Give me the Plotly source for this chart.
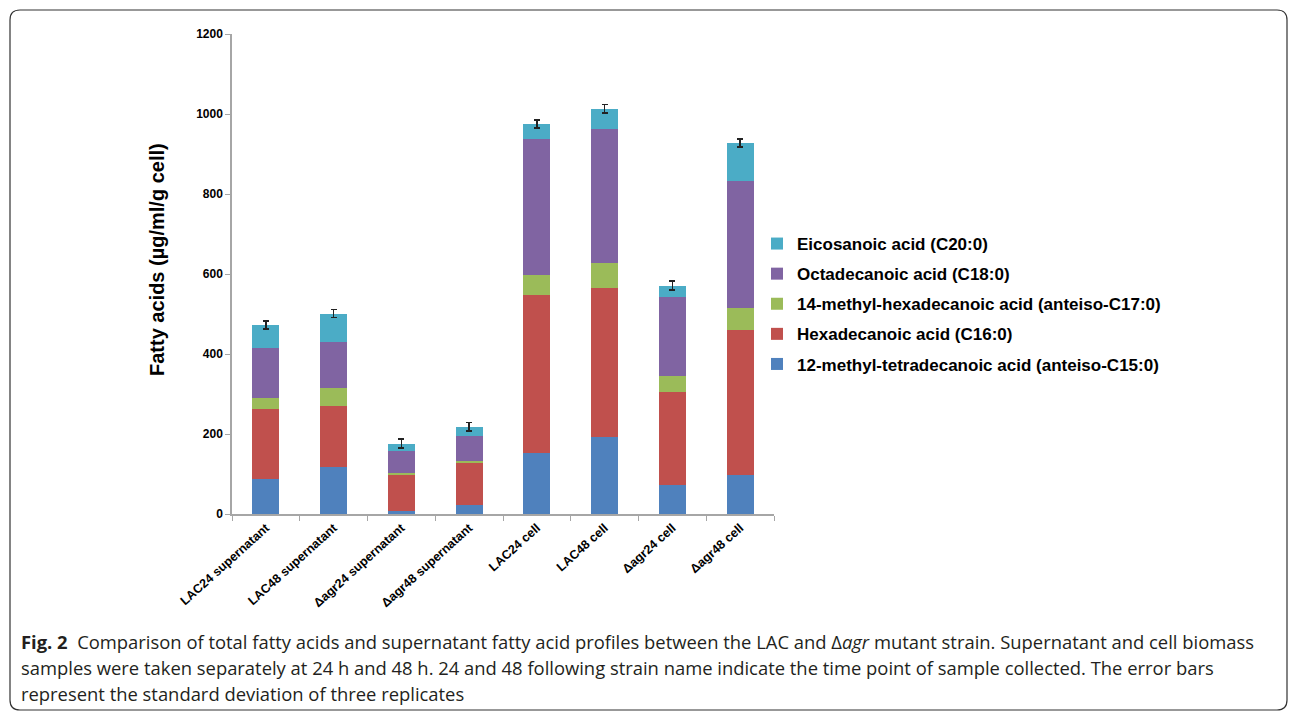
import plotly.graph_objects as go

# ---------------- data ----------------
categories = ["LAC24 supernatant", "LAC48 supernatant", "Δagr24 supernatant", "Δagr48 supernatant",
              "LAC24 cell", "LAC48 cell", "Δagr24 cell", "Δagr48 cell"]

anteiso_c15 = [88, 118, 8, 22, 152, 193, 73, 98]
c16 = [174, 153, 91, 105, 396, 371, 231, 362]
anteiso_c17 = [27, 43, 4, 6, 50, 63, 41, 55]
c18 = [125, 117, 55, 61, 339, 335, 198, 318]
c20 = [58, 70, 18, 24, 38, 51, 28, 95]
total_sd = [10, 10, 11, 11, 10, 11, 11, 10]

series_names = ["12-methyl-tetradecanoic acid (anteiso-C15:0)",
                "Hexadecanoic acid (C16:0)",
                "14-methyl-hexadecanoic acid (anteiso-C17:0)",
                "Octadecanoic acid (C18:0)",
                "Eicosanoic acid (C20:0)"]
series_values = [anteiso_c15, c16, anteiso_c17, c18, c20]
series_colors = ["#4f81bd", "#c0504d", "#9bbb59", "#8064a2", "#4bacc6"]

y_ticks = [0, 200, 400, 600, 800, 1000, 1200]

# ---------------- layout geometry (pixels) ----------------
FIG_W, FIG_H = 1295, 718
L, R, T, B = 232, 774, 34, 514
PW, PH = R - L, B - T


def px_x(px):
    return (px - L) / PW


def px_y(py):
    return (B - py) / PH


FONT = "Liberation Sans, Arial, sans-serif"

fig = go.Figure()
n = len(series_names)
for i, (name, vals, col) in enumerate(zip(series_names, series_values, series_colors)):
    kw = {}
    if i == n - 1:
        kw["error_y"] = dict(type="data", array=total_sd, color="#222222", thickness=1.5, width=3)
    fig.add_trace(go.Bar(
        x=categories, y=vals, name=name, marker=dict(color=col, line=dict(width=0)),
        width=0.4, legendgroup=f"g{i}", legendrank=n - i, **kw))

# rounded border around the figure
x0, x1, y0, y1, r = 10, 1287, 10, 710, 10
path = (f"M {px_x(x0 + r)},{px_y(y0)} L {px_x(x1 - r)},{px_y(y0)} "
        f"Q {px_x(x1)},{px_y(y0)} {px_x(x1)},{px_y(y0 + r)} "
        f"L {px_x(x1)},{px_y(y1 - r)} Q {px_x(x1)},{px_y(y1)} {px_x(x1 - r)},{px_y(y1)} "
        f"L {px_x(x0 + r)},{px_y(y1)} Q {px_x(x0)},{px_y(y1)} {px_x(x0)},{px_y(y1 - r)} "
        f"L {px_x(x0)},{px_y(y0 + r)} Q {px_x(x0)},{px_y(y0)} {px_x(x0 + r)},{px_y(y0)} Z")

cap_font = dict(family="Open Sans, sans-serif", size=18.4, color="#231f20")
captions = [
    "<b>Fig. 2</b>  Comparison of total fatty acids and supernatant fatty acid profiles between the LAC and Δ<i>agr</i> mutant strain. Supernatant and cell biomass",
    "samples were taken separately at 24 h and 48 h. 24 and 48 following strain name indicate the time point of sample collected. The error bars",
    "represent the standard deviation of three replicates",
]
cap_y = [641, 667, 693]
annotations = []
for txt, yy in zip(captions, cap_y):
    annotations.append(dict(text=txt, xref="paper", yref="paper", x=px_x(19), y=px_y(yy),
                            xanchor="left", yanchor="middle", showarrow=False, font=cap_font))
annotations.append(dict(text="<b>Fatty acids (µg/ml/g cell)</b>", xref="paper", yref="paper",
                        x=px_x(157), y=px_y(260), textangle=-90, showarrow=False,
                        xanchor="center", yanchor="middle",
                        font=dict(family=FONT, size=20, color="black")))

fig.update_layout(
    width=FIG_W, height=FIG_H,
    margin=dict(l=L, r=FIG_W - R, t=T, b=FIG_H - B, autoexpand=False),
    barmode="stack",
    plot_bgcolor="white", paper_bgcolor="white",
    showlegend=True,
    legend=dict(x=px_x(757), y=px_y(226), xanchor="left", yanchor="top",
                traceorder="grouped", tracegroupgap=5, itemwidth=30,
                font=dict(family=FONT, size=17, color="black", weight="bold"),
                bgcolor="rgba(0,0,0,0)"),
    xaxis=dict(type="category", showline=True, linecolor="#a6a6a6", linewidth=1.5,
               ticks="outside", tickson="boundaries", ticklen=5, tickcolor="#a6a6a6",
               tickangle=-42, tickfont=dict(family=FONT, size=12.5, color="black", weight="bold"),
               showgrid=False, zeroline=False),
    yaxis=dict(range=[0, 1200], tickvals=y_ticks, showline=True, linecolor="#a6a6a6", linewidth=1.5,
               ticks="outside", ticklen=5, tickcolor="#a6a6a6",
               tickfont=dict(family=FONT, size=12, color="black", weight="bold"),
               showgrid=False, zeroline=False),
    shapes=[dict(type="path", path=path, xref="paper", yref="paper",
                 line=dict(color="#333333", width=1.2), fillcolor="rgba(0,0,0,0)", layer="below")],
    annotations=annotations,
)

fig.write_html("out.html")
